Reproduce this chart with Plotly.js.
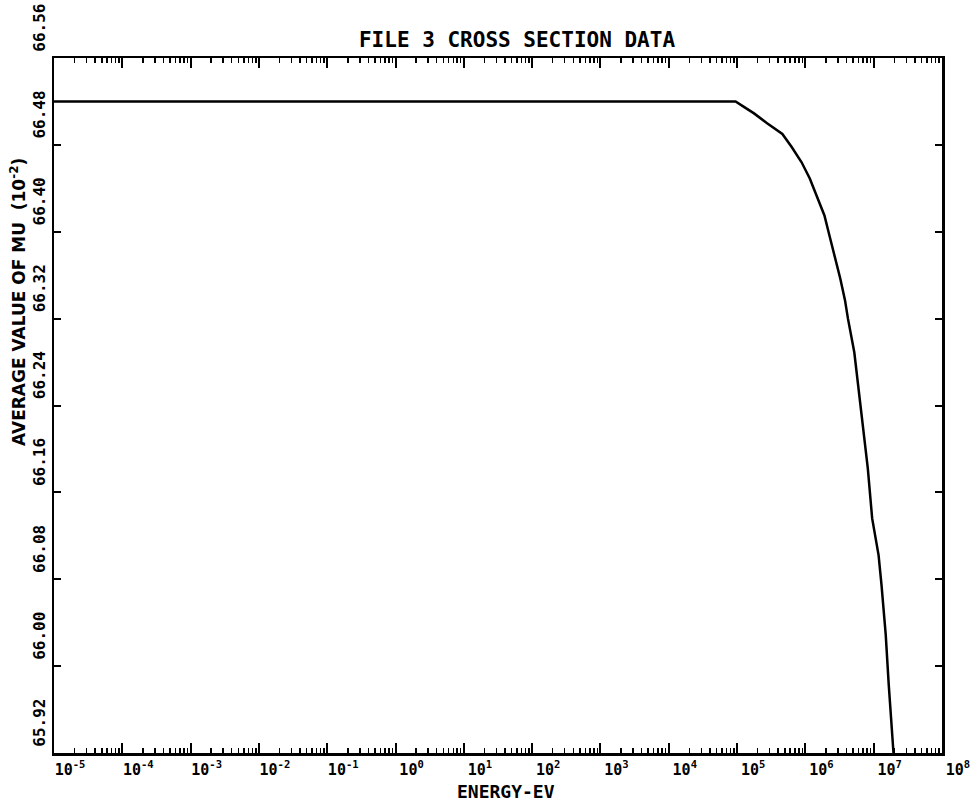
<!DOCTYPE html>
<html>
<head>
<meta charset="utf-8">
<script src="https://cdn.plot.ly/plotly-3.0.1.min.js"></script>
<style>html,body{margin:0;padding:0;background:#fff;}#chart{width:974px;height:803px;}</style>
</head>
<body>
<div id="chart"></div>
<script>
// Energy (eV) and average value of mu (10^-2)
const energy = [1e-5, 9.5e4, 1.26e5, 1.77e5, 2.75e5, 4.6e5, 6.3e5, 8.8e5, 1.16e6, 1.52e6, 1.9e6, 2.24e6, 2.76e6, 3.24e6, 3.8e6, 4.2e6, 5.2e6, 7.1e6, 8.2e6, 9.5e6, 1.18e7, 1.3e7, 1.5e7, 1.66e7, 1.82e7, 1.95e7];
const mu = [66.52, 66.52, 66.515, 66.509, 66.50, 66.49, 66.478, 66.464, 66.449, 66.43, 66.415, 66.397, 66.375, 66.357, 66.337, 66.32, 66.289, 66.219, 66.182, 66.136, 66.102, 66.075, 66.029, 65.983, 65.943, 65.92];

const xTickVals = [1e-5,1e-4,1e-3,1e-2,1e-1,1e0,1e1,1e2,1e3,1e4,1e5,1e6,1e7,1e8];
const xTickText = ['10<sup>-5</sup>','10<sup>-4</sup>','10<sup>-3</sup>','10<sup>-2</sup>','10<sup>-1</sup>','10<sup>0</sup>','10<sup>1</sup>','10<sup>2</sup>','10<sup>3</sup>','10<sup>4</sup>','10<sup>5</sup>','10<sup>6</sup>','10<sup>7</sup>','10<sup>8</sup>'];

const titleText = 'FILE 3 CROSS SECTION DATA';
const xTitle = 'ENERGY-EV';
const yTitle = 'AVERAGE VALUE OF MU  (10<sup>-2</sup>)';

const xTickFont = {family: 'DejaVu Sans Mono', size: 15, color: '#000', weight: 'bold'};
const yTickFont = {family: 'DejaVu Sans Mono', size: 16, color: '#000', weight: 'bold'};

const data = [{
  x: energy, y: mu, type: 'scatter', mode: 'lines',
  line: {color: '#000', width: 2.5}, hoverinfo: 'skip'
}];

const layout = {
  width: 974, height: 803,
  margin: {l: 54, r: 32, t: 58, b: 50},
  paper_bgcolor: '#fff', plot_bgcolor: '#fff',
  showlegend: false,
  title: {text: '<b>' + titleText + '</b>', x: 517/974, xanchor: 'center', xref: 'container', y: 1 - 40/803, yanchor: 'middle',
          font: {family: 'DejaVu Sans Mono', size: 21, color: '#000'}},
  xaxis: {
    type: 'log', range: [-5, 8],
    tickvals: xTickVals, ticktext: xTickText,
    ticks: 'inside', ticklen: 10, tickwidth: 2, tickcolor: '#000',
    minor: {ticks: 'inside', dtick: 'D1', ticklen: 5, tickwidth: 1.5, tickcolor: '#000', showgrid: false},
    showline: true, linewidth: 2.5, linecolor: '#000', mirror: 'allticks',
    showgrid: false, zeroline: false,
    tickfont: xTickFont, ticklabelshift: 16, ticklabelstandoff: 1
  },
  yaxis: {
    range: [65.92, 66.56], tick0: 65.92, dtick: 0.08, tickformat: '.2f',
    ticks: 'inside', ticklen: 7, tickwidth: 2, tickcolor: '#000',
    showline: true, linewidth: 2.5, linecolor: '#000', mirror: 'allticks',
    showgrid: false, zeroline: false,
    tickangle: -90, tickfont: yTickFont, ticklabelshift: -28, ticklabelstandoff: 0
  },
  annotations: [{
    text: '<b>' + yTitle + '</b>', textangle: -90, showarrow: false,
    xref: 'paper', x: (18 - 54) / 888, xanchor: 'center',
    yref: 'paper', y: (753 - 302) / 695, yanchor: 'middle',
    font: {family: 'DejaVu Sans', size: 17, color: '#000'}
  }, {
    text: '<b>' + xTitle + '</b>', showarrow: false,
    xref: 'paper', x: (506 - 54) / 888, xanchor: 'center',
    yref: 'paper', y: (753 - 791) / 695, yanchor: 'middle',
    font: {family: 'DejaVu Sans Mono', size: 18, color: '#000'}
  }]
};

Plotly.newPlot('chart', data, layout, {staticPlot: true, displayModeBar: false});
</script>
</body>
</html>
